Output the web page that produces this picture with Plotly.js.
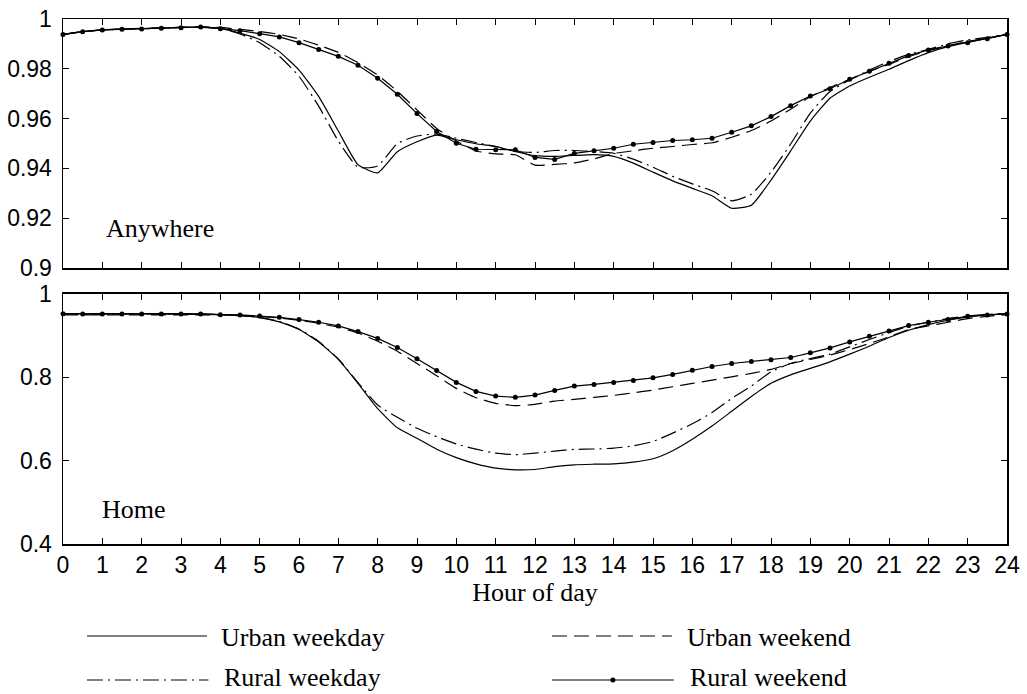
<!DOCTYPE html>
<html>
<head>
<meta charset="utf-8">
<script src="https://cdn.plot.ly/plotly-3.0.1.min.js"></script>
<style>
  html, body { margin: 0; padding: 0; background: #fff; }
  #chart { width: 1027px; height: 694px; }
</style>
</head>
<body>
<div id="chart"></div>
<script>
// Hours of day (half-hour steps)
const hours = [];
for (let i = 0; i <= 48; i++) hours.push(i / 2);

const seriesNames = ["Urban weekday", "Urban weekend", "Rural weekday", "Rural weekend"];
const panelLabels = ["Anywhere", "Home"];
const anyTickVals = [0.9, 0.92, 0.94, 0.96, 0.98, 1];
const anyTickText = ["0.9", "0.92", "0.94", "0.96", "0.98", "1"];
const homeTickVals = [0.4, 0.6, 0.8, 1];
const homeTickText = ["0.4", "0.6", "0.8", "1"];
const xTickVals = [];
for (let h = 0; h <= 24; h++) xTickVals.push(h);

// Anywhere panel
const anyUrbanWeekday = [
  0.9938,0.9949,0.9956,0.9959,0.9961,0.9963,0.9966,0.9967,
  0.9962,0.9943,0.9918,0.9869,0.9795,0.9689,0.9550,0.9415,
  0.9382,0.9467,0.9507,0.9534,0.9515,0.9499,0.9488,0.9468,
  0.9451,0.9448,0.9452,0.9455,0.9448,0.9421,0.9385,0.9350,
  0.9320,0.9290,0.9240,0.9252,0.9353,0.9470,0.9590,0.9682,
  0.9731,0.9766,0.9798,0.9833,0.9865,0.9889,0.9906,0.9922,
  0.9938];
const anyRuralWeekday = [
  0.9938,0.9949,0.9956,0.9959,0.9961,0.9963,0.9966,0.9967,
  0.9962,0.9940,0.9905,0.9850,0.9770,0.9650,0.9510,0.9405,
  0.9410,0.9500,0.9530,0.9538,0.9521,0.9504,0.9488,0.9468,
  0.9464,0.9472,0.9472,0.9468,0.9461,0.9437,0.9405,0.9368,
  0.9338,0.9310,0.9270,0.9296,0.9385,0.9498,0.9622,0.9709,
  0.9755,0.9795,0.9829,0.9858,0.9878,0.9900,0.9916,0.9926,
  0.9938];
const anyUrbanWeekend = [
  0.9938,0.9949,0.9956,0.9960,0.9962,0.9964,0.9967,0.9968,
  0.9966,0.9958,0.9950,0.9938,0.9920,0.9895,0.9866,0.9825,
  0.9775,0.9710,0.9635,0.9560,0.9510,0.9470,0.9458,0.9455,
  0.9413,0.9416,0.9422,0.9438,0.9460,0.9471,0.9481,0.9488,
  0.9496,0.9503,0.9525,0.9552,0.9590,0.9638,0.9688,0.9725,
  0.9757,0.9790,0.9818,0.9849,0.9873,0.9893,0.9910,0.9922,
  0.9938];
const anyRuralWeekend = [
  0.9938,0.9949,0.9956,0.9959,0.9960,0.9963,0.9965,0.9968,
  0.9961,0.9953,0.9941,0.9928,0.9905,0.9878,0.9850,0.9814,
  0.9762,0.9698,0.9620,0.9548,0.9501,0.9477,0.9475,0.9475,
  0.9444,0.9436,0.9460,0.9471,0.9481,0.9497,0.9504,0.9512,
  0.9515,0.9521,0.9545,0.9571,0.9608,0.9652,0.9691,0.9720,
  0.9758,0.9790,0.9822,0.9853,0.9876,0.9892,0.9905,0.9921,
  0.9938];

// Home panel
const homeUrbanWeekday = [
  0.9529,0.9529,0.9529,0.9528,0.9528,0.9527,0.9527,0.9525,
  0.9505,0.9480,0.9433,0.9330,0.9146,0.8850,0.8430,0.7855,
  0.7247,0.6790,0.6538,0.6275,0.6073,0.5923,0.5820,0.5780,
  0.5788,0.5858,0.5900,0.5915,0.5925,0.5965,0.6045,0.6240,
  0.6515,0.6830,0.7185,0.7540,0.7860,0.8060,0.8215,0.8372,
  0.8556,0.8747,0.8955,0.9130,0.9266,0.9370,0.9449,0.9497,
  0.9521];
const homeRuralWeekday = [
  0.9525,0.9525,0.9525,0.9525,0.9525,0.9525,0.9525,0.9522,
  0.9505,0.9482,0.9440,0.9340,0.9160,0.8860,0.8440,0.7870,
  0.7335,0.7040,0.6777,0.6576,0.6401,0.6275,0.6179,0.6145,
  0.6180,0.6230,0.6270,0.6280,0.6300,0.6355,0.6460,0.6660,
  0.6885,0.7155,0.7495,0.7790,0.8133,0.8332,0.8452,0.8556,
  0.8731,0.8907,0.9074,0.9226,0.9322,0.9410,0.9473,0.9513,
  0.9529];
const homeUrbanWeekend = [
  0.9497,0.9497,0.9497,0.9497,0.9497,0.9497,0.9497,0.9497,
  0.9497,0.9490,0.9465,0.9425,0.9370,0.9298,0.9202,0.9066,
  0.8867,0.8628,0.8333,0.8037,0.7735,0.7510,0.7376,0.7319,
  0.7352,0.7430,0.7470,0.7518,0.7566,0.7630,0.7694,0.7774,
  0.7853,0.7933,0.8013,0.8093,0.8189,0.8332,0.8428,0.8532,
  0.8667,0.8811,0.8971,0.9146,0.9234,0.9322,0.9410,0.9465,
  0.9505];
const homeRuralWeekend = [
  0.9529,0.9520,0.9520,0.9520,0.9520,0.9520,0.9520,0.9520,
  0.9505,0.9497,0.9473,0.9441,0.9386,0.9322,0.9234,0.9098,
  0.8935,0.8716,0.8444,0.8166,0.7879,0.7663,0.7550,0.7520,
  0.7575,0.7687,0.7790,0.7830,0.7877,0.7925,0.7989,0.8069,
  0.8173,0.8260,0.8332,0.8380,0.8420,0.8476,0.8588,0.8707,
  0.8851,0.8987,0.9114,0.9242,0.9322,0.9386,0.9465,0.9497,
  0.9521];

const styles = {
  "Urban weekday": { line: { color: "#000", width: 1.2, dash: "solid", shape: "spline", smoothing: 0.5 }, mode: "lines" },
  "Urban weekend": { line: { color: "#000", width: 1.2, dash: "15px,7px", shape: "spline", smoothing: 0.4 }, mode: "lines" },
  "Rural weekday": { line: { color: "#000", width: 1.2, dash: "16px,5px,2px,5px", shape: "spline", smoothing: 0.5 }, mode: "lines" },
  "Rural weekend": { line: { color: "#000", width: 1.2, dash: "solid" }, mode: "lines+markers", marker: { color: "#000", size: 5 } }
};

const anyData = { "Urban weekday": anyUrbanWeekday, "Urban weekend": anyUrbanWeekend, "Rural weekday": anyRuralWeekday, "Rural weekend": anyRuralWeekend };
const homeData = { "Urban weekday": homeUrbanWeekday, "Urban weekend": homeUrbanWeekend, "Rural weekday": homeRuralWeekday, "Rural weekend": homeRuralWeekend };

const traces = [];
seriesNames.forEach(name => {
  const s = styles[name];
  traces.push(Object.assign({ type: "scatter", x: hours, y: anyData[name], xaxis: "x", yaxis: "y", name: name, showlegend: false, cliponaxis: false, hoverinfo: "skip" }, s));
  traces.push(Object.assign({ type: "scatter", x: hours, y: homeData[name], xaxis: "x2", yaxis: "y2", name: name, showlegend: false, cliponaxis: false, hoverinfo: "skip" }, s));
});

const tickFont = { family: "Liberation Sans, Arial, sans-serif", size: 23, color: "#000" };
const serif = "Liberation Serif, Times New Roman, serif";

const axisBase = {
  showline: true, linecolor: "#000", linewidth: 1.5, mirror: "ticks",
  ticks: "inside", ticklen: 6, tickwidth: 1, tickcolor: "#000",
  showgrid: false, zeroline: false, tickfont: tickFont
};

const layout = {
  width: 1027, height: 694,
  margin: { l: 63, r: 20, t: 19, b: 150 },
  paper_bgcolor: "#fff", plot_bgcolor: "#fff",
  showlegend: false,
  xaxis: Object.assign({}, axisBase, { domain: [0, 1], anchor: "y", range: [0, 24], tickvals: xTickVals, showticklabels: false }),
  yaxis: Object.assign({}, axisBase, { domain: [0.5257, 1], anchor: "x", range: [0.9, 1], tickvals: anyTickVals, ticktext: anyTickText, ticklabelstandoff: 5 }),
  xaxis2: Object.assign({}, axisBase, { domain: [0, 1], anchor: "y2", range: [0, 24], tickvals: xTickVals, ticktext: xTickVals.map(String),
    title: { text: "Hour of day", font: { family: serif, size: 26, color: "#000" }, standoff: 2 } }),
  yaxis2: Object.assign({}, axisBase, { domain: [0, 0.4762], anchor: "x2", range: [0.4, 1], tickvals: homeTickVals, ticktext: homeTickText, ticklabelstandoff: 5 }),
  annotations: [
    { text: panelLabels[0], xref: "x domain", yref: "y domain", x: 0.043, y: 0.157, xanchor: "left", yanchor: "middle", showarrow: false, font: { family: serif, size: 26, color: "#000" } },
    { text: panelLabels[1], xref: "x2 domain", yref: "y2 domain", x: 0.039, y: 0.136, xanchor: "left", yanchor: "middle", showarrow: false, font: { family: serif, size: 26, color: "#000" } }
  ],
  shapes: []
};

// Custom legend (long line samples, two columns)
const legendItems = [
  { name: "Urban weekday", x0: 0.0254, x1: 0.1525, tx: 0.1653, y: -0.1752, ty: -0.1790 },
  { name: "Urban weekend", x0: 0.518, x1: 0.645, tx: 0.659, y: -0.1752, ty: -0.1790 },
  { name: "Rural weekday", x0: 0.0254, x1: 0.1540, tx: 0.1680, y: -0.2590, ty: -0.2545 },
  { name: "Rural weekend", x0: 0.518, x1: 0.647, tx: 0.662, y: -0.2590, ty: -0.2545 }
];
legendItems.forEach(it => {
  const s = styles[it.name];
  layout.shapes.push({ type: "line", xref: "paper", yref: "paper", x0: it.x0, x1: it.x1, y0: it.y, y1: it.y,
    line: { color: "#000", width: 1.2, dash: s.line.dash } });
  if (s.marker) {
    const cx = (it.x0 + it.x1) / 2;
    layout.shapes.push({ type: "circle", xref: "paper", yref: "paper", xsizemode: "pixel", ysizemode: "pixel",
      xanchor: cx, yanchor: it.y, x0: -2.5, x1: 2.5, y0: -2.5, y1: 2.5, fillcolor: "#000", line: { color: "#000", width: 0 } });
  }
  layout.annotations.push({ text: it.name, xref: "paper", yref: "paper", x: it.tx, y: it.ty, xanchor: "left", yanchor: "middle",
    showarrow: false, font: { family: serif, size: 26, color: "#000" } });
});

Plotly.newPlot("chart", traces, layout, { staticPlot: true, displayModeBar: false });
</script>
</body>
</html>
